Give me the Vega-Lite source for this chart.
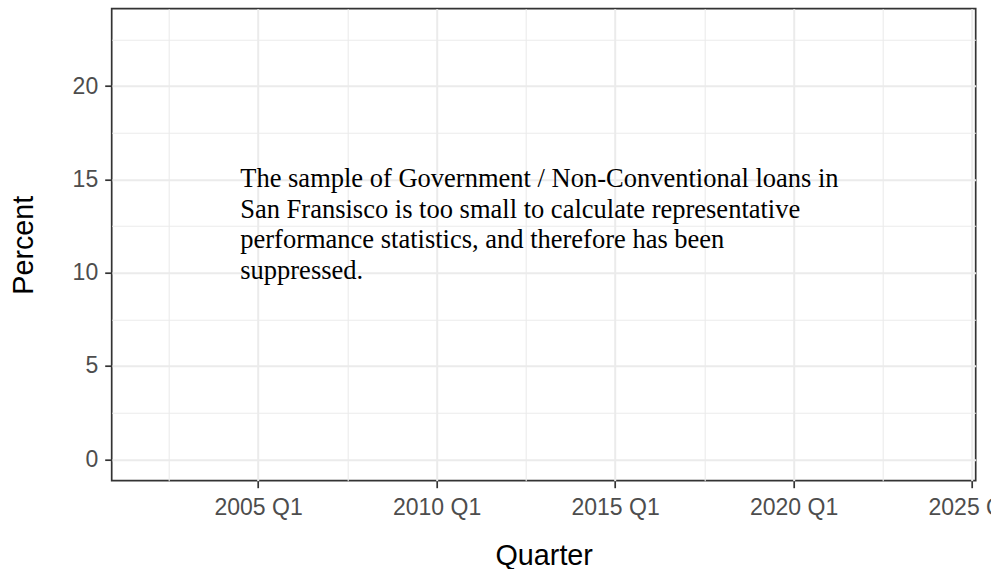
{
  "$schema": "https://vega.github.io/schema/vega-lite/v6.json",
  "width": 864,
  "height": 472,
  "autosize": {"type": "none"},
  "padding": {"left": 111.7, "top": 8.7, "right": 15.3, "bottom": 88.3},
  "background": "white",
  "config": {
    "view": {"stroke": "#333333", "strokeWidth": 1.7},
    "font": "Liberation Sans"
  },
  "data": {
    "values": [
      {
        "quarter": 2004.5,
        "percent": 14.6,
        "note": "The sample of Government / Non-Conventional loans in\nSan Fransisco is too small to calculate representative\nperformance statistics, and therefore has been\nsuppressed."
      }
    ]
  },
  "mark": {
    "type": "text",
    "align": "left",
    "baseline": "alphabetic",
    "font": "Liberation Serif",
    "fontSize": 26.5,
    "lineHeight": 30.7,
    "lineBreak": "\n",
    "color": "black"
  },
  "encoding": {
    "x": {
      "field": "quarter",
      "type": "quantitative",
      "scale": {"domain": [2000.9, 2025.1], "nice": false, "zero": false},
      "axis": {
        "title": "Quarter",
        "values": [2002.5, 2005, 2007.5, 2010, 2012.5, 2015, 2017.5, 2020, 2022.5, 2025],
        "labelExpr": "datum.value % 5 === 0 ? datum.value + ' Q1' : ''",
        "domain": false,
        "grid": true,
        "gridColor": "#EBEBEB",
        "gridWidth": {"condition": {"test": "datum.value % 5 !== 0", "value": 1.1}, "value": 2},
        "tickColor": "#333333",
        "tickWidth": 1.7,
        "tickSize": 7,
        "tickOpacity": {"condition": {"test": "datum.value % 5 !== 0", "value": 0}, "value": 1},
        "labelFont": "Liberation Sans",
        "labelFontSize": 23,
        "labelColor": "#4D4D4D",
        "labelPadding": 8.5,
        "labelFlush": false,
        "labelOverlap": false,
        "titleFont": "Liberation Sans",
        "titleFontSize": 28.75,
        "titleFontWeight": "normal",
        "titleColor": "black",
        "titlePadding": 22
      }
    },
    "y": {
      "field": "percent",
      "type": "quantitative",
      "scale": {"domain": [-1.15, 24.15], "nice": false, "zero": false},
      "axis": {
        "title": "Percent",
        "values": [0, 2.5, 5, 7.5, 10, 12.5, 15, 17.5, 20, 22.5],
        "labelExpr": "datum.value % 5 === 0 ? datum.label : ''",
        "domain": false,
        "grid": true,
        "gridColor": "#EBEBEB",
        "gridWidth": {"condition": {"test": "datum.value % 5 !== 0", "value": 1.1}, "value": 2},
        "tickColor": "#333333",
        "tickWidth": 1.7,
        "tickSize": 7,
        "tickOpacity": {"condition": {"test": "datum.value % 5 !== 0", "value": 0}, "value": 1},
        "labelFont": "Liberation Sans",
        "labelFontSize": 23,
        "labelColor": "#4D4D4D",
        "labelPadding": 7,
        "labelOverlap": false,
        "titleFont": "Liberation Sans",
        "titleFontSize": 28.75,
        "titleFontWeight": "normal",
        "titleColor": "black",
        "titlePadding": 34
      }
    },
    "text": {"field": "note"}
  }
}
